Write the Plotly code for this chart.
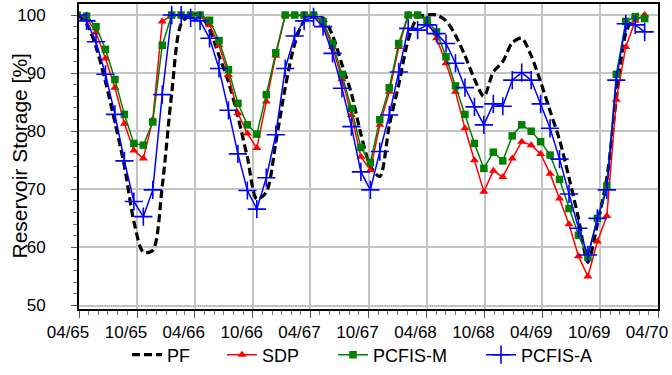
import pandas as pd
import plotly.graph_objects as go

# time index: 61 regular steps (approx. 30-day)
dates = pd.date_range(start="1965-03-26", periods=61, freq="716h")

pf = [100, 98.5, 94.5, 88.5, 81.5, 74, 64.5, 59.2, 59.5, 70.5, 86.5, 98.5, 100, 100, 97.5,
      93, 88.5, 82.5, 75.5, 68.3, 69.5, 78, 87.5, 95, 99, 100, 99.5, 96.5, 91.5, 86.5,
      79.5, 74, 72.2, 81, 88, 95.7, 99.6, 100, 100, 99, 96.5, 93, 89, 86, 90.2,
      92, 95.2, 96, 93, 88.5, 83.5, 78.5, 72, 65, 57.5, 64, 72, 85.5, 96.8, 100, 100]

sdp = [100, 99.5, 97, 92.5, 87.5, 81.3, 76.7, 75.3, 82, 98.9, 100, 100, 100, 100, 98.3,
       94.8, 89.7, 83.1, 79.6, 77.1, 85.1, 93, 100, 100, 100, 100, 98.5, 94.5, 89, 82.8,
       75.6, 73.3, 81.1, 86.8, 94.5, 100, 100, 99, 96, 91.7, 86.8, 80.5, 75, 69.6, 73.2,
       72.1, 75.3, 78.2, 77.6, 76.1, 72.7, 68.4, 64, 58.5, 55, 61, 65.4, 85.4, 94.5, 99, 100]

pcfis_m = [100, 99.8, 98, 94.1, 88.9, 82.9, 77.9, 77.6, 81.6, 94.8, 100, 100, 100, 100, 99.1,
           95.6, 90.6, 84.8, 81.1, 79.5, 86.3, 93.5, 100, 100, 100, 100, 98.9, 95.1, 89.8, 83.9,
           77.2, 74.6, 82, 87.5, 95.1, 100, 100, 99.1, 97.1, 92.8, 87.8, 82.9, 77.9, 73.6, 76.4,
           74.9, 79.2, 81.1, 80, 78.2, 75.9, 71.7, 66.7, 62.1, 58.3, 65, 70.6, 89.8, 98.9, 99.7, 99.4]

pcfis_a = [100, 99, 95.4, 89.8, 82.9, 74.9, 67.9, 65.3, 69.9, 86.3, 100, 100, 99.5, 99, 96,
           90.8, 83.6, 76.1, 69.8, 66.6, 72, 79.4, 90.8, 96.4, 99, 99.7, 98, 93.4, 87.4, 80.8,
           73, 69.9, 76.5, 82.8, 90.2, 97.7, 97.4, 98.3, 96.8, 95.1, 91.7, 87.5, 84.2, 81.1, 84.7,
           84.3, 88.8, 90.1, 88.8, 84.7, 80.5, 75.2, 69.2, 63.3, 58.7, 65, 69.9, 88.8, 98.5, 98.3, 97.1]

FONT = "Liberation Sans, Arial, sans-serif"

fig = go.Figure()
fig.add_trace(go.Scatter(x=dates, y=pf, name="PF", mode="lines", legend="legend",
                         line=dict(color="black", width=3.2, dash="8px,4px", shape="spline", smoothing=0.8)))
fig.add_trace(go.Scatter(x=dates, y=sdp, name="SDP", mode="lines+markers", legend="legend2",
                         line=dict(color="#ff0000", width=1.5),
                         marker=dict(symbol="triangle-up", size=8, color="#ff0000")))
fig.add_trace(go.Scatter(x=dates, y=pcfis_m, name="PCFIS-M", mode="lines+markers", legend="legend3",
                         line=dict(color="#008000", width=1.5),
                         marker=dict(symbol="square", size=7.5, color="#008000")))
fig.add_trace(go.Scatter(x=dates, y=pcfis_a, name="PCFIS-A", mode="lines+markers", legend="legend4",
                         line=dict(color="#0000ff", width=1.5),
                         marker=dict(symbol="cross-thin", size=13, color="#0000ff",
                                     line=dict(color="#0000ff", width=1.6))))

L, R, T, B, W, H = 79, 14, 4, 66, 672, 375
pw = W - L - R
ph = H - T - B


def leg(px_left):
    return dict(orientation="h", x=(px_left - L) / pw, xanchor="left",
                y=-(355 - (H - B)) / ph, yanchor="middle",
                font=dict(size=18, family=FONT), bgcolor="rgba(0,0,0,0)")


fig.update_layout(
    width=W, height=H,
    margin=dict(l=L, r=R, t=T, b=B, autoexpand=False),
    paper_bgcolor="white", plot_bgcolor="white",
    font=dict(family=FONT, size=17, color="black"),
    showlegend=True,
    legend=leg(127), legend2=leg(222), legend3=leg(333), legend4=leg(481),
    annotations=[dict(text="Reservoir Storage [%]", textangle=-90,
                      xref="paper", yref="paper", x=(19 - L) / pw, y=0.5,
                      xanchor="center", yanchor="middle", showarrow=False,
                      font=dict(size=21, family=FONT, color="black"))],
)

fig.update_xaxes(
    type="date", range=["1965-04-01", "1970-04-01"],
    tick0="1965-04-01", dtick="M6", tickformat="%m/%y",
    ticklabeloverflow="allow", automargin=False, ticklabelshift=-11,
    showgrid=True, gridcolor="#c4c4c4", gridwidth=1.5,
    showline=True, linecolor="black", linewidth=2, mirror=True,
    ticks="outside", ticklen=7, tickwidth=1.2, tickcolor="#555",
    tickfont=dict(size=17),
    minor=dict(dtick="M1", tick0="1965-04-01", ticks="outside", ticklen=4, tickwidth=1, tickcolor="#777", showgrid=False),
    zeroline=False,
)
fig.update_yaxes(
    range=[49.4, 101.9], tick0=50, dtick=10, automargin=False,
    showgrid=True, gridcolor="#c4c4c4", gridwidth=1.5,
    showline=True, linecolor="black", linewidth=2, mirror=True,
    ticks="outside", ticklen=6, tickwidth=1.2, tickcolor="#555",
    tickfont=dict(size=17), ticklabelstandoff=22,
    minor=dict(dtick=2, tick0=50, ticks="outside", ticklen=4, tickwidth=1, tickcolor="#777", showgrid=False),
    zeroline=False,
)

fig.write_html("out.html")
